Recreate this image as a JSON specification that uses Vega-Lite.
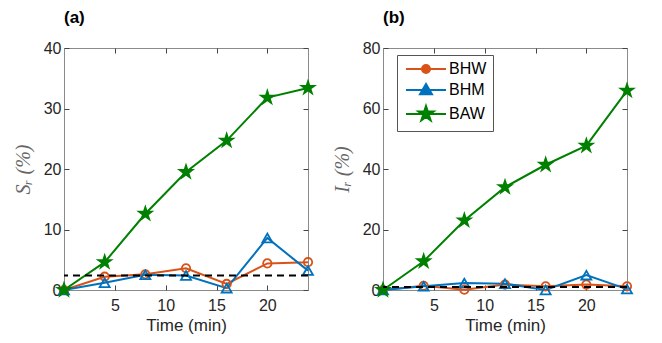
{
  "$schema": "https://vega.github.io/schema/vega-lite/v6.json",
  "background": "white",
  "padding": {"left": 12, "top": 8, "right": 5, "bottom": 5},
  "spacing": 13,
  "datasets": {
    "a": [
      {"time": 0, "series": "BHW", "value": 0},
      {"time": 4, "series": "BHW", "value": 2.2},
      {"time": 8, "series": "BHW", "value": 2.6},
      {"time": 12, "series": "BHW", "value": 3.6},
      {"time": 16, "series": "BHW", "value": 1.0},
      {"time": 20, "series": "BHW", "value": 4.4},
      {"time": 24, "series": "BHW", "value": 4.6},
      {"time": 0, "series": "BHM", "value": 0},
      {"time": 4, "series": "BHM", "value": 1.2},
      {"time": 8, "series": "BHM", "value": 2.5},
      {"time": 12, "series": "BHM", "value": 2.4},
      {"time": 16, "series": "BHM", "value": 0.3},
      {"time": 20, "series": "BHM", "value": 8.6},
      {"time": 24, "series": "BHM", "value": 3.2},
      {"time": 0, "series": "BAW", "value": 0},
      {"time": 4, "series": "BAW", "value": 4.6},
      {"time": 8, "series": "BAW", "value": 12.6},
      {"time": 12, "series": "BAW", "value": 19.5},
      {"time": 16, "series": "BAW", "value": 24.7},
      {"time": 20, "series": "BAW", "value": 31.8},
      {"time": 24, "series": "BAW", "value": 33.4}
    ],
    "b": [
      {"time": 0, "series": "BHW", "value": 0},
      {"time": 4, "series": "BHW", "value": 1.4},
      {"time": 8, "series": "BHW", "value": 0.1},
      {"time": 12, "series": "BHW", "value": 1.8},
      {"time": 16, "series": "BHW", "value": 1.2},
      {"time": 20, "series": "BHW", "value": 1.8},
      {"time": 24, "series": "BHW", "value": 1.2},
      {"time": 0, "series": "BHM", "value": 0},
      {"time": 4, "series": "BHM", "value": 1.2},
      {"time": 8, "series": "BHM", "value": 2.3},
      {"time": 12, "series": "BHM", "value": 2.1},
      {"time": 16, "series": "BHM", "value": 0},
      {"time": 20, "series": "BHM", "value": 4.9},
      {"time": 24, "series": "BHM", "value": 0.3},
      {"time": 0, "series": "BAW", "value": 0},
      {"time": 4, "series": "BAW", "value": 9.5},
      {"time": 8, "series": "BAW", "value": 23},
      {"time": 12, "series": "BAW", "value": 34},
      {"time": 16, "series": "BAW", "value": 41.4},
      {"time": 20, "series": "BAW", "value": 47.7},
      {"time": 24, "series": "BAW", "value": 65.9}
    ],
    "thrA": [{"threshold": 2.4}],
    "thrB": [{"threshold": 1.0}]
  },
  "hconcat": [
    {
      "width": 244,
      "height": 242,
      "title": {"text": "(a)", "anchor": "start", "frame": "group", "font": "Liberation Sans", "fontSize": 17, "fontWeight": "bold", "color": "black", "offset": 13},
      "resolve": {"axis": {"x": "independent", "y": "independent"}},
      "layer": [
        {
          "data": {"name": "a"},
          "mark": {"type": "line", "strokeWidth": 2},
          "encoding": {
            "x": {"field": "time", "type": "quantitative", "scale": {"domain": [0, 24], "nice": false}, "axis": {"values": [5, 10, 15, 20], "title": "Time (min)", "orient": "bottom"}},
            "y": {"field": "value", "type": "quantitative", "scale": {"domain": [0, 40], "nice": false}, "axis": {"values": [0, 10, 20, 30, 40], "title": "Sᵣ (%)", "orient": "left"}},
            "color": {"field": "series", "type": "nominal", "scale": {"domain": ["BHW", "BHM", "BAW"], "range": ["#D95319", "#0072BD", "#008000"]}, "legend": null}
          }
        },
        {
          "data": {"name": "a"},
          "transform": [{"filter": "datum.series === 'BHW'"}],
          "mark": {"type": "point", "filled": false, "strokeWidth": 1.8, "opacity": 1, "shape": "circle", "size": 70},
          "encoding": {
            "x": {"field": "time", "type": "quantitative", "axis": null},
            "y": {"field": "value", "type": "quantitative", "axis": null},
            "color": {"field": "series", "type": "nominal", "legend": null}
          }
        },
        {
          "data": {"name": "a"},
          "transform": [{"filter": "datum.series === 'BHM'"}],
          "mark": {"type": "point", "filled": false, "strokeWidth": 1.8, "opacity": 1, "shape": "triangle-up", "size": 100},
          "encoding": {
            "x": {"field": "time", "type": "quantitative", "axis": null},
            "y": {"field": "value", "type": "quantitative", "axis": null},
            "color": {"field": "series", "type": "nominal", "legend": null}
          }
        },
        {
          "data": {"name": "a"},
          "transform": [{"filter": "datum.series === 'BAW'"}],
          "mark": {"type": "point", "filled": true, "strokeWidth": 1, "opacity": 1, "size": 360, "shape": "M0,-1L0.2245,-0.309L0.951,-0.309L0.363,0.118L0.588,0.809L0,0.382L-0.588,0.809L-0.363,0.118L-0.951,-0.309L-0.2245,-0.309Z"},
          "encoding": {
            "x": {"field": "time", "type": "quantitative", "axis": null},
            "y": {"field": "value", "type": "quantitative", "axis": null},
            "color": {"field": "series", "type": "nominal", "legend": null}
          }
        },
        {
          "data": {"name": "thrA"},
          "mark": {"type": "rule", "color": "black", "strokeWidth": 2, "strokeDash": [7, 5]},
          "encoding": {
            "y": {"field": "threshold", "type": "quantitative", "axis": null}
          }
        },
        {
          "data": {"name": "a"},
          "mark": {"type": "point", "opacity": 0},
          "encoding": {
            "x": {"field": "time", "type": "quantitative", "axis": {"orient": "top", "values": [5, 10, 15, 20], "labels": false, "title": null}},
            "y": {"field": "value", "type": "quantitative", "axis": {"orient": "right", "values": [0, 10, 20, 30, 40], "labels": false, "title": null}}
          }
        }
      ]
    },
    {
      "width": 244,
      "height": 242,
      "title": {"text": "(b)", "anchor": "start", "frame": "group", "font": "Liberation Sans", "fontSize": 17, "fontWeight": "bold", "color": "black", "offset": 13},
      "resolve": {"axis": {"x": "independent", "y": "independent"}},
      "layer": [
        {
          "data": {"name": "b"},
          "mark": {"type": "line", "strokeWidth": 2},
          "encoding": {
            "x": {"field": "time", "type": "quantitative", "scale": {"domain": [0, 24], "nice": false}, "axis": {"values": [5, 10, 15, 20], "title": "Time (min)", "orient": "bottom"}},
            "y": {"field": "value", "type": "quantitative", "scale": {"domain": [0, 80], "nice": false}, "axis": {"values": [0, 20, 40, 60, 80], "title": "Iᵣ (%)", "orient": "left"}},
            "color": {
              "field": "series", "type": "nominal",
              "scale": {"domain": ["BHW", "BHM", "BAW"], "range": ["#D95319", "#0072BD", "#008000"]},
              "legend": {"title": null, "orient": "none", "legendX": 14, "legendY": 7, "symbolSize": 100, "symbolStrokeWidth": 2, "labelOffset": 30, "labelFont": "Liberation Sans", "labelFontSize": 16, "labelColor": "black", "padding": 6, "rowPadding": 3, "fillColor": "white", "strokeColor": "#555555"}
            }
          }
        },
        {
          "data": {"name": "b"},
          "transform": [{"filter": "datum.series === 'BHW'"}],
          "mark": {"type": "point", "filled": false, "strokeWidth": 1.8, "opacity": 1, "shape": "circle", "size": 70},
          "encoding": {
            "x": {"field": "time", "type": "quantitative", "axis": null},
            "y": {"field": "value", "type": "quantitative", "axis": null},
            "color": {"field": "series", "type": "nominal"}
          }
        },
        {
          "data": {"name": "b"},
          "transform": [{"filter": "datum.series === 'BHM'"}],
          "mark": {"type": "point", "filled": false, "strokeWidth": 1.8, "opacity": 1, "shape": "triangle-up", "size": 100},
          "encoding": {
            "x": {"field": "time", "type": "quantitative", "axis": null},
            "y": {"field": "value", "type": "quantitative", "axis": null},
            "color": {"field": "series", "type": "nominal"}
          }
        },
        {
          "data": {"name": "b"},
          "transform": [{"filter": "datum.series === 'BAW'"}],
          "mark": {"type": "point", "filled": true, "strokeWidth": 1, "opacity": 1, "size": 360, "shape": "M0,-1L0.2245,-0.309L0.951,-0.309L0.363,0.118L0.588,0.809L0,0.382L-0.588,0.809L-0.363,0.118L-0.951,-0.309L-0.2245,-0.309Z"},
          "encoding": {
            "x": {"field": "time", "type": "quantitative", "axis": null},
            "y": {"field": "value", "type": "quantitative", "axis": null},
            "color": {"field": "series", "type": "nominal"}
          }
        },
        {
          "data": {"name": "thrB"},
          "mark": {"type": "rule", "color": "black", "strokeWidth": 2, "strokeDash": [7, 5]},
          "encoding": {
            "y": {"field": "threshold", "type": "quantitative", "axis": null}
          }
        },
        {
          "data": {"name": "b"},
          "mark": {"type": "point", "filled": false, "strokeWidth": 2, "opacity": 1, "size": 0},
          "encoding": {
            "x": {"field": "time", "type": "quantitative", "axis": {"orient": "top", "values": [5, 10, 15, 20], "labels": false, "title": null}},
            "y": {"field": "value", "type": "quantitative", "axis": {"orient": "right", "values": [0, 20, 40, 60, 80], "labels": false, "title": null}},
            "color": {"field": "series", "type": "nominal"},
            "shape": {
              "field": "series", "type": "nominal",
              "scale": {"domain": ["BHW", "BHM", "BAW"], "range": ["M-1,0L7,0M3.8,0A0.8,0.8,0,1,1,2.2,0A0.8,0.8,0,1,1,3.8,0Z", "M-1,0L7,0M3,-1.2L4.2,0.85L1.8,0.85Z", "M-1,0L7,0M3,-1.6L3.36,-0.494L4.52,-0.494L3.581,0.189L3.94,1.294L3,0.611L2.06,1.294L2.419,0.189L1.48,-0.494L2.64,-0.494Z"]},
              "legend": null
            }
          }
        }
      ]
    }
  ],
  "resolve": {"scale": {"color": "independent", "shape": "independent", "x": "independent", "y": "independent"}},
  "config": {
    "view": {"stroke": "#8a8a8a", "strokeWidth": 1},
    "axis": {
      "grid": false,
      "domain": false,
      "ticks": true,
      "tickSize": -5,
      "tickColor": "#444444",
      "tickWidth": 1,
      "labelFont": "Liberation Sans",
      "labelFontSize": 16,
      "labelColor": "#262626",
      "labelPadding": 8,
      "titleFont": "Liberation Sans",
      "titleFontSize": 17,
      "titleFontWeight": "normal",
      "titleColor": "#262626"
    },
    "axisX": {"labelPadding": 12, "titlePadding": 4},
    "axisY": {"titleFont": "Liberation Serif", "titleFontStyle": "italic", "titleColor": "#666666", "titleFontSize": 20, "titlePadding": 10}
  }
}
